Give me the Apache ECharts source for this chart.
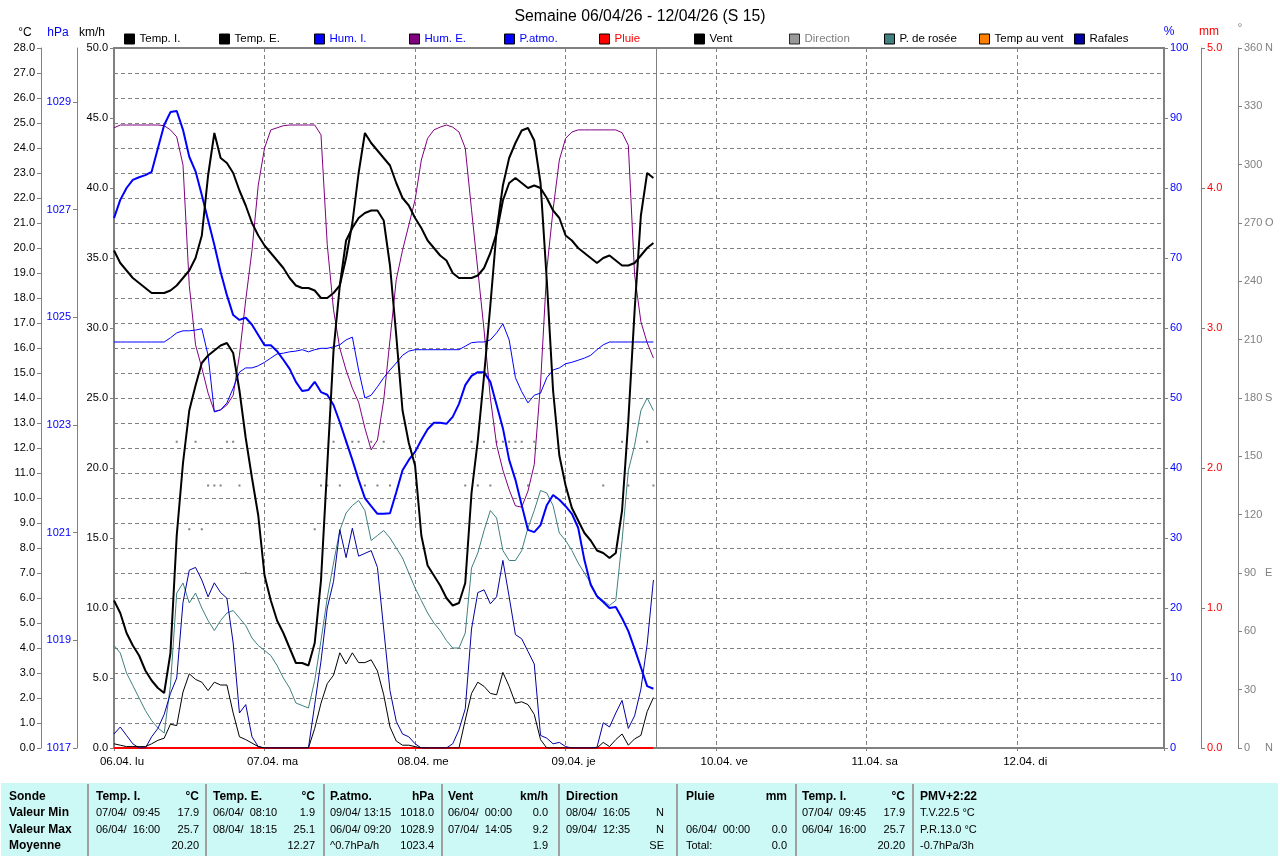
<!DOCTYPE html>
<html><head><meta charset="utf-8">
<script src="https://cdn.jsdelivr.net/npm/echarts@6/dist/echarts.min.js"></script>
<style>html,body{margin:0;padding:0;background:#fff}#c{width:1280px;height:856px}</style>
</head><body><div id="c"></div>
<script>
const chartTitle = 'Semaine 06/04/26 - 12/04/26 (S 15)';
const dayLabels = ['06.04. lu','07.04. ma','08.04. me','09.04. je','10.04. ve','11.04. sa','12.04. di'];
const stepHours = 1;      // one sample per hour from 06.04 00:00
const nowHour = 86.4;     // current-time marker
const hpaTicks = [1017,1019,1021,1023,1025,1027,1029];
const compassLabels = {0:'N',90:'E',180:'S',270:'O',360:'N'};

const tempI = [19.9,19.4,19.1,18.8,18.6,18.4,18.2,18.2,18.2,18.3,
 18.5,18.8,19.1,19.6,20.5,22.9,24.6,23.6,23.4,23.0,
 22.3,21.7,21.0,20.5,20.1,19.8,19.5,19.2,18.8,18.5,
 18.4,18.4,18.3,18.0,18.0,18.2,18.5,19.6,21.0,23.0,
 24.6,24.2,23.9,23.6,23.3,22.6,22.0,21.7,21.2,20.8,
 20.3,20.0,19.7,19.5,19.0,18.8,18.8,18.8,18.9,19.2,
 19.8,20.6,21.9,22.6,22.8,22.6,22.4,22.5,22.4,22.0,
 21.5,21.2,20.5,20.3,20.0,19.8,19.6,19.4,19.6,19.7,
 19.5,19.3,19.3,19.4,19.7,20.0,20.2];
const tempE = [5.9,5.4,4.6,4.1,3.7,3.1,2.7,2.4,2.2,3.8,
 8.5,11.4,13.5,14.5,15.4,15.7,15.9,16.1,16.2,15.8,
 14.3,12.4,10.8,9.3,6.9,5.9,5.1,4.6,4.0,3.4,
 3.4,3.3,4.2,6.7,11.3,15.9,18.5,20.3,20.8,21.2,
 21.4,21.5,21.5,21.1,19.3,16.5,13.5,12.2,11.3,8.5,
 7.3,6.9,6.5,6.0,5.7,5.8,6.6,10.2,12.3,14.9,
 17.7,20.7,22.5,23.6,24.2,24.7,24.8,24.3,22.6,18.7,
 14.3,11.7,10.5,9.6,9.1,8.6,8.3,7.9,7.8,7.6,
 7.8,9.5,13.1,17.5,21.3,23.0,22.8];
const humI = [58.0,58.0,58.0,58.0,58.0,58.0,58.0,58.0,58.0,58.6,
 59.3,59.6,59.6,59.7,59.9,56.1,48.0,48.3,49.3,51.4,
 53.7,54.3,54.3,54.6,55.1,55.7,56.3,56.4,56.6,56.7,
 56.9,56.6,56.9,57.1,57.1,57.3,57.6,58.3,58.7,54.0,
 50.0,50.4,51.6,52.9,54.0,55.0,56.1,56.7,56.9,56.9,
 56.9,56.9,56.9,56.9,56.9,56.9,57.4,57.9,58.0,58.0,
 58.3,59.3,60.6,58.3,52.9,50.9,49.3,50.4,50.7,52.9,
 54.0,54.3,54.9,55.1,55.4,55.7,56.1,56.9,57.6,58.0,
 58.0,58.0,58.0,58.0,58.0,58.0,58.0];
const humE = [88.6,89.0,89.0,89.0,89.0,89.0,89.0,89.0,88.9,88.3,
 87.3,83.3,66.1,57.6,54.3,50.7,48.1,48.3,49.0,50.4,
 56.1,64.0,71.1,80.4,85.7,88.3,88.6,88.9,89.0,89.0,
 89.0,89.0,89.0,87.6,71.9,62.6,57.1,54.0,51.4,49.4,
 45.7,42.6,44.0,49.7,58.3,66.9,71.1,74.7,78.3,84.0,
 87.1,88.3,88.7,89.0,88.7,88.0,85.7,76.9,68.3,59.7,
 50.0,43.3,39.7,36.9,34.6,34.4,36.7,40.5,52.0,68.3,
 76.9,84.0,87.1,88.0,88.3,88.3,88.3,88.3,88.3,88.3,
 88.3,87.9,86.1,67.6,60.9,57.9,55.7];
const pAtmo = [1026.84,1027.18,1027.40,1027.55,1027.60,1027.64,1027.70,1028.14,1028.57,1028.81,
 1028.83,1028.48,1027.98,1027.71,1027.27,1026.80,1026.34,1025.84,1025.41,1025.04,
 1024.95,1024.99,1024.86,1024.67,1024.48,1024.48,1024.37,1024.21,1024.04,1023.80,
 1023.63,1023.65,1023.80,1023.61,1023.56,1023.37,1023.05,1022.70,1022.35,1021.98,
 1021.64,1021.49,1021.35,1021.35,1021.36,1021.75,1022.16,1022.35,1022.50,1022.72,
 1022.92,1023.04,1023.04,1023.02,1023.15,1023.39,1023.74,1023.91,1023.98,1023.98,
 1023.80,1023.37,1022.94,1022.35,1021.98,1021.51,1021.05,1021.01,1021.14,1021.51,
 1021.70,1021.61,1021.49,1021.35,1021.09,1020.49,1020.03,1019.82,1019.71,1019.60,
 1019.62,1019.41,1019.17,1018.84,1018.50,1018.15,1018.10];
const pluie = [0,0,0,0,0,0,0,0,0,0, 0,0,0,0,0,0,0,0,0,0, 0,0,0,0,0,0,0,0,0,0,
 0,0,0,0,0,0,0,0,0,0, 0,0,0,0,0,0,0,0,0,0, 0,0,0,0,0,0,0,0,0,0,
 0,0,0,0,0,0,0,0,0,0, 0,0,0,0,0,0,0,0,0,0, 0,0,0,0,0,0,0];
const vent = [0.3,0.2,0.1,0.1,0.1,0.1,0.3,0.55,0.7,1.7,
 1.6,4.0,5.3,4.9,4.7,4.1,4.7,4.5,4.5,2.5,
 0.8,0.6,0.35,0.1,0,0,0,0,0,0,
 0,0,1.4,3.2,4.6,5.2,6.8,6.0,6.8,6.1,
 6.1,6.3,5.5,3.8,1.5,0.5,0.2,0.2,0.1,0,
 0,0,0,0,0,0,2.0,3.9,4.7,4.4,
 3.9,3.8,5.4,4.4,3.2,3.3,3.1,2.4,0.6,0,
 0,0,0,0,0,0,0,0,0.4,0.1,
 0.6,1.0,0.2,0.65,0.9,2.6,3.6];
const direction = [null,null,null,null,null,null,null,null,null,null,
 157.5,null,112.5,157.5,112.5,135,135,135,157.5,157.5,
 135,90,null,null,null,null,null,null,null,null,
 null,null,112.5,135,135,157.5,135,157.5,157.5,157.5,
 135,157.5,135,157.5,135,null,null,null,null,null,
 null,null,null,null,null,null,135,157.5,135,157.5,
 135,157.5,157.5,157.5,157.5,157.5,135,157.5,null,null,
 null,null,null,null,null,null,null,null,135,null,
 null,157.5,135,null,null,157.5,135];
const rosee = [4.1,3.8,3.0,2.5,2.0,1.5,1.1,0.8,0.6,2.5,
 6.2,6.6,5.8,6.2,5.6,5.1,4.7,5.1,5.4,5.5,
 5.2,4.9,4.4,4.1,3.9,3.7,3.3,2.8,2.4,1.8,
 1.7,1.6,2.7,4.3,6.0,7.4,8.7,9.4,9.7,9.9,
 9.5,8.3,8.5,8.7,8.4,8.0,7.6,7.0,6.4,5.9,
 5.4,5.0,4.7,4.3,4.0,4.0,4.6,7.2,7.8,8.7,
 9.5,9.2,7.9,7.5,7.5,7.9,8.8,9.5,10.3,10.2,
 9.7,8.6,8.3,7.9,7.4,7.0,6.6,6.1,5.9,5.7,
 5.9,8.3,11.1,12.1,13.5,14.0,13.5];
const tempVent = [];
const rafales = [1.0,1.5,0.9,0.3,0,0,0.8,1.4,2.4,3.9,
 5.0,10.4,12.7,12.9,12.0,10.8,11.8,11.1,10.7,7.5,
 2.5,3.1,0.8,0.1,0,0,0,0,0,0,
 0,0,3.1,6.2,10.0,11.9,15.6,13.6,15.7,13.7,
 13.9,14.1,12.9,8.5,4.1,1.9,1.0,0.8,0.3,0,
 0,0,0,0,0.3,1.3,2.8,8.5,11.1,11.3,
 10.3,10.8,13.4,10.8,8.1,7.8,6.9,6.0,0.9,0.7,
 0.3,0.4,0.1,0,0,0,0,0.05,1.8,1.5,
 2.5,3.4,1.4,2.3,4.2,7.4,12.0];

const tableCols = [
 {l:9,   r:null, cells:[['Sonde',''],['Valeur Min',''],['Valeur Max',''],['Moyenne','']], bold:true},
 {l:96,  r:199, cells:[['Temp. I.','°C'],['07/04/  09:45','17.9'],['06/04/  16:00','25.7'],['','20.20']]},
 {l:213, r:315, cells:[['Temp. E.','°C'],['06/04/  08:10','1.9'],['08/04/  18:15','25.1'],['','12.27']]},
 {l:330, r:434, cells:[['P.atmo.','hPa'],['09/04/ 13:15','1018.0'],['06/04/ 09:20','1028.9'],['^0.7hPa/h','1023.4']]},
 {l:448, r:548, cells:[['Vent','km/h'],['06/04/  00:00','0.0'],['07/04/  14:05','9.2'],['','1.9']]},
 {l:566, r:664, cells:[['Direction',''],['08/04/  16:05','N'],['09/04/  12:35','N'],['','SE']]},
 {l:686, r:787, cells:[['Pluie','mm'],['',''],['06/04/  00:00','0.0'],['Total:','0.0']]},
 {l:802, r:905, cells:[['Temp. I.','°C'],['07/04/  09:45','17.9'],['06/04/  16:00','25.7'],['','20.20']]},
 {l:920, r:null, cells:[['PMV+2:22',''],['T.V.22.5 °C',''],['P.R.13.0 °C',''],['-0.7hPa/3h','']]}
];
const tableSeparators = [88,206,324,442,559,677,796,913];
const tableRowY = [797,813,830,846];

const legendItems = [
 ['Temp. I.','#000000','#000000'],['Temp. E.','#000000','#000000'],['Hum. I.','#0000FF','#0000FF'],
 ['Hum. E.','#800080','#0000FF'],['P.atmo.','#0000FF','#0000FF'],['Pluie','#FF0000','#FF0000'],
 ['Vent','#000000','#000000'],['Direction','#808080','#808080'],['P. de rosée','#408080','#000000'],
 ['Temp au vent','#FF8000','#000000'],['Rafales','#0000A0','#000000']
];

const FF = "'Liberation Sans', Arial, sans-serif";
const chart = echarts.init(document.getElementById('c'), null, {renderer:'canvas'});

function pts(arr){ return arr.map((v,i)=>[i*stepHours, v]); }
function lineSeries(name, arr, yIdx, color, width, z){
  return {name, type:'line', yAxisIndex:yIdx, data:pts(arr), showSymbol:false, symbol:'none',
    lineStyle:{color, width}, itemStyle:{color}, silent:true, animation:false, z, connectNulls:false};
}
function yAxis(o){
  return Object.assign({
    type:'value',
    axisLine:{show:true, onZero:false, lineStyle:{color:'#808080', width:1}},
    axisTick:{show:true, inside:false, length:4, lineStyle:{color:'#808080'}},
    splitLine:{show:false}
  }, o);
}
const lbl = (color, extra) => Object.assign({color, fontSize:11, fontFamily:FF, margin:6, showMinLabel:true, showMaxLabel:true}, extra||{});

const graphics = [];
[['°C',25,33,'#000'],['hPa',58,33,'#0000FF'],['km/h',92,33,'#000'],['%',1169,32,'#0000FF'],['mm',1209,32,'#FF0000'],['°',1240,29,'#808080']]
 .forEach(a=>graphics.push({type:'text', x:a[1], y:a[2], style:{text:a[0], fill:a[3], font:'12px '+FF, align:'center', verticalAlign:'middle'}}));
graphics.push({type:'rect', shape:{x:1,y:783,width:1277,height:73}, style:{fill:'#CCF8F6'}});
tableSeparators.forEach(x=>graphics.push({type:'line', shape:{x1:x,y1:784,x2:x,y2:856}, style:{stroke:'#A0A0A0', lineWidth:2}}));
tableCols.forEach(col=>{
  col.cells.forEach((c,ri)=>{
    const bold = col.bold || ri===0;
    const font = bold ? 'bold 12px '+FF : '11px '+FF;
    if (c[0]) graphics.push({type:'text', x:col.l, y:tableRowY[ri], style:{text:c[0], fill:'#000', font, align:'left', verticalAlign:'middle'}});
    if (c[1] && col.r) graphics.push({type:'text', x:col.r, y:tableRowY[ri], style:{text:c[1], fill:'#000', font, align:'right', verticalAlign:'middle'}});
  });
});

const option = {
  animation:false,
  backgroundColor:'#ffffff',
  title:{text:chartTitle, left:'center', top:4, textStyle:{fontSize:15.8, fontWeight:'normal', fontFamily:FF, color:'#000'}},
  grid:{left:114, right:116, top:48, bottom:108, show:true, borderColor:'#808080', borderWidth:2, outerBoundsMode:'none', containLabel:false},
  legend: legendItems.map((it,i)=>({
    left:124+95*i, top:33, padding:0, itemWidth:10, itemHeight:10, icon:'rect', selectedMode:false,
    data:[{name:it[0], itemStyle:{color:it[1], borderColor:'#000', borderWidth:1}, textStyle:{color:it[2]}}],
    textStyle:{fontSize:11.5, fontFamily:FF}
  })),
  xAxis:{type:'value', min:0, max:167.4, interval:24,
    axisLine:{show:true, onZero:false, lineStyle:{color:'#808080', width:2}},
    axisTick:{show:true, length:3, lineStyle:{color:'#808080'}},
    axisLabel:{color:'#000', fontSize:11.5, fontFamily:FF, margin:8, padding:[0,0,0,16], showMaxLabel:true,
      formatter:v=>{const i=Math.round(v/24); return (Math.abs(v-i*24)<0.01 && i<dayLabels.length)?dayLabels[i]:'';}},
    splitLine:{show:true, lineStyle:{color:'#808080', type:[4,3], width:1}}
  },
  yAxis:[
    yAxis({position:'left', offset:73, min:0, max:28, interval:1,
      axisLabel:lbl('#000', {formatter:v=>v.toFixed(1)}),
      splitLine:{show:true, lineStyle:{color:'#808080', type:[4,3], width:1}}}),
    yAxis({position:'left', offset:37, min:1017, max:1030,
      axisLabel:lbl('#0000FF', {customValues:hpaTicks, formatter:v=>String(Math.round(v))}),
      axisTick:{show:true, length:4, customValues:hpaTicks, lineStyle:{color:'#808080'}}}),
    yAxis({position:'left', offset:0, min:0, max:50, interval:5,
      axisLine:{show:true, onZero:false, lineStyle:{color:'#808080', width:2}},
      axisLabel:lbl('#000', {formatter:v=>v.toFixed(1)})}),
    yAxis({position:'right', offset:0, min:0, max:100, interval:10,
      axisLine:{show:true, onZero:false, lineStyle:{color:'#808080', width:2}},
      axisLabel:lbl('#0000FF')}),
    yAxis({position:'right', offset:37, min:0, max:5, interval:1,
      axisLabel:lbl('#FF0000', {formatter:v=>v.toFixed(1)})}),
    yAxis({position:'right', offset:74, min:0, max:360, interval:30,
      axisLabel:lbl('#808080', {
        formatter:v=>compassLabels[v]!==undefined ? '{n|'+v+'}{c|'+compassLabels[v]+'}' : '{n|'+v+'}',
        rich:{n:{width:21, color:'#808080', fontSize:11, fontFamily:FF}, c:{color:'#808080', fontSize:11, fontFamily:FF}}
      })})
  ],
  series:[
    Object.assign(lineSeries('Pluie', pluie, 4, '#FF0000', 2, 3), {
      markLine:{silent:true, symbol:['none','none'], label:{show:false},
        lineStyle:{color:'#808080', type:'solid', width:1}, data:[{xAxis:nowHour}]}}),
    {name:'Direction', type:'scatter', yAxisIndex:5, data:pts(direction).filter(p=>p[1]!==null),
      symbol:'rect', symbolSize:2, itemStyle:{color:'#606060'}, silent:true, z:3},
    lineSeries('P. de rosée', rosee, 0, '#408080', 1, 4),
    lineSeries('Temp au vent', tempVent, 0, '#FF8000', 1, 4),
    lineSeries('Hum. E.', humE, 3, '#800080', 1, 5),
    lineSeries('Hum. I.', humI, 3, '#0000FF', 1, 5),
    lineSeries('Rafales', rafales, 2, '#0000A0', 1, 5),
    lineSeries('Vent', vent, 2, '#000000', 1, 6),
    lineSeries('P.atmo.', pAtmo, 1, '#0000FF', 2, 7),
    lineSeries('Temp. E.', tempE, 0, '#000000', 2, 8),
    lineSeries('Temp. I.', tempI, 0, '#000000', 2, 8)
  ],
  graphic: graphics
};
chart.setOption(option);
</script>
</body></html>
